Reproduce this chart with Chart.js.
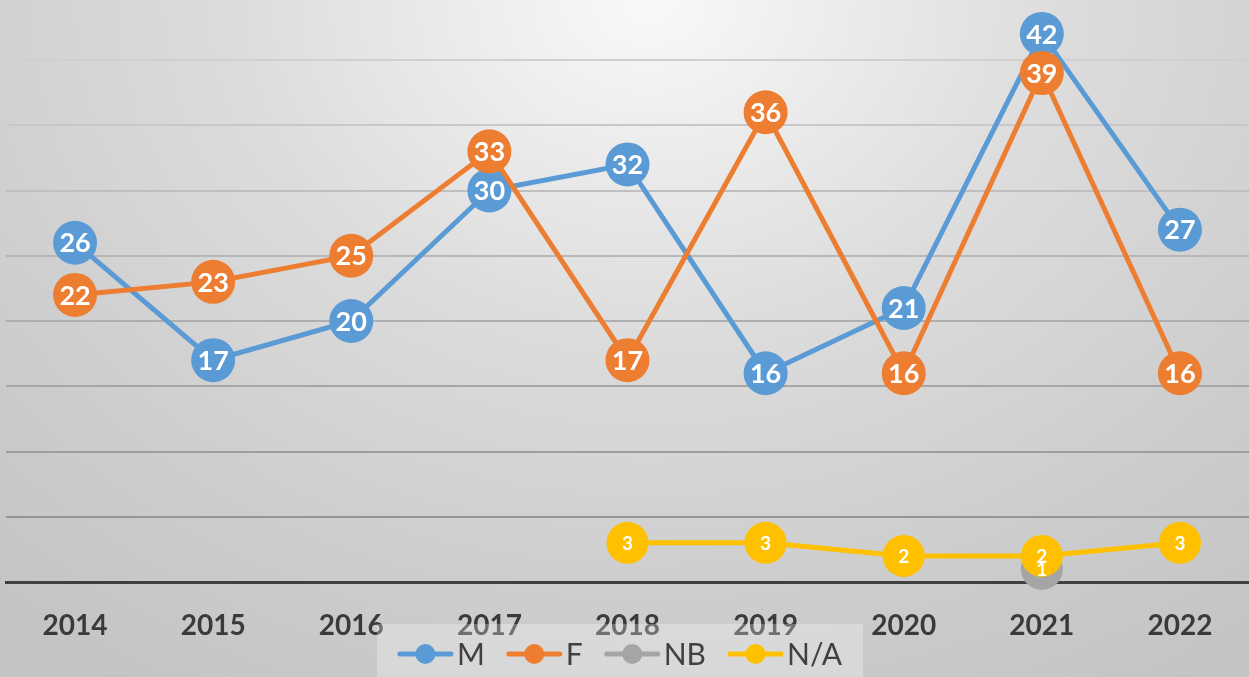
<!DOCTYPE html>
<html>
<head>
<meta charset="utf-8">
<script src="https://cdn.jsdelivr.net/npm/chart.js@4/dist/chart.umd.min.js"></script>
<style>
    html, body { margin: 0; padding: 0; }
    body {
        width: 1249px;
        height: 677px;
        overflow: hidden;
        background: radial-gradient(ellipse 1000px 800px at 52% 0%, #f9f9f9 0%, #dcdcdc 42%, #cdcdcd 75%, #c4c4c4 100%);
    }
    canvas { display: block; }
</style>
</head>
<body>
<canvas id="chart" width="1249" height="677"></canvas>
<script>
const years = ['2014', '2015', '2016', '2017', '2018', '2019', '2020', '2021', '2022'];
const maleCounts = [26, 17, 20, 30, 32, 16, 21, 42, 27];
const femaleCounts = [22, 23, 25, 33, 17, 36, 16, 39, 16];
const nonBinaryCounts = [null, null, null, null, null, null, null, 1, null];
const notGivenCounts = [null, null, null, null, 3, 3, 2, 2, 3];
const seriesNames = ['M', 'F', 'NB', 'N/A'];
const seriesColors = ['#5B9BD5', '#ED7D31', '#A5A5A5', '#FFC000'];

const FONT = 'Lato, "Open Sans", sans-serif';

// white value labels centred on each marker
const pointLabels = {
    id: 'pointLabels',
    afterDatasetsDraw(chart) {
        const ctx = chart.ctx;
        ctx.save();
        ctx.fillStyle = '#ffffff';
        ctx.textAlign = 'center';
        ctx.textBaseline = 'middle';
        chart.data.datasets.forEach((ds, i) => {
            const meta = chart.getDatasetMeta(i);
            ctx.font = `bold ${ds.labelSize}px ${FONT}`;
            meta.data.forEach((pt, j) => {
                const v = ds.data[j];
                if (v === null || v === undefined) return;
                ctx.fillText(String(v), pt.x, pt.y + 1);
            });
        });
        ctx.restore();
    }
};

// Excel style legend: line + marker, on a pale box over the axis labels
const lineLegend = {
    id: 'lineLegend',
    afterDraw(chart) {
        const ctx = chart.ctx;
        const cy = 654;
        const lineLen = 55, textGap = 4, itemGap = 22;
        ctx.save();
        ctx.font = `30px ${FONT}`;
        const widths = seriesNames.map(n => ctx.measureText(n).width);
        const total = widths.reduce((a, w) => a + lineLen + textGap + w, 0) + itemGap * (seriesNames.length - 1);
        let x = 620 - total / 2;

        ctx.fillStyle = 'rgba(255, 255, 255, 0.28)';
        ctx.fillRect(x - 21, 624, total + 42, 60);

        ctx.textBaseline = 'middle';
        ctx.textAlign = 'left';
        seriesNames.forEach((name, i) => {
            ctx.strokeStyle = seriesColors[i];
            ctx.lineWidth = 5;
            ctx.lineCap = 'round';
            ctx.beginPath();
            ctx.moveTo(x + 2, cy);
            ctx.lineTo(x + lineLen - 2, cy);
            ctx.stroke();

            ctx.fillStyle = seriesColors[i];
            ctx.beginPath();
            ctx.arc(x + lineLen / 2, cy, 10, 0, Math.PI * 2);
            ctx.fill();

            ctx.fillStyle = '#404040';
            ctx.fillText(name, x + lineLen + textGap, cy + 1);
            x += lineLen + textGap + widths[i] + itemGap;
        });
        ctx.restore();
    }
};

function makeSeries(label, data, idx, radius, labelSize) {
    return {
        label,
        data,
        borderColor: seriesColors[idx],
        backgroundColor: seriesColors[idx],
        borderWidth: 5,
        pointRadius: radius,
        pointHoverRadius: radius,
        pointBorderWidth: 0,
        pointBackgroundColor: seriesColors[idx],
        tension: 0,
        spanGaps: false,
        clip: false,
        order: 3 - idx,
        labelSize
    };
}

new Chart(document.getElementById('chart'), {
    type: 'line',
    data: {
        labels: years,
        datasets: [
            makeSeries(seriesNames[0], maleCounts, 0, 22, 27),
            makeSeries(seriesNames[1], femaleCounts, 1, 22, 27),
            makeSeries(seriesNames[2], nonBinaryCounts, 2, 21, 19),
            makeSeries(seriesNames[3], notGivenCounts, 3, 21, 19)
        ]
    },
    options: {
        responsive: false,
        animation: false,
        events: [],
        layout: { autoPadding: false, padding: { left: 6, right: 0, top: 0, bottom: 0 } },
        plugins: {
            legend: { display: false },
            tooltip: { enabled: false }
        },
        scales: {
            x: {
                offset: true,
                grid: { display: false, drawTicks: false },
                border: { display: true, color: '#404040', width: 3 },
                ticks: {
                    color: '#3a3a3a',
                    padding: 27,
                    font: { family: FONT, size: 28, weight: 'bold' }
                },
                afterFit(scale) { scale.height = 95; }
            },
            y: {
                min: 0,
                max: 44.6,
                ticks: { display: false, stepSize: 5 },
                border: { display: false },
                grid: {
                    drawTicks: false,
                    lineWidth: (c) => (c.tick.value === 0 ? 3 : 2),
                    color: (c) => {
                        const v = c.tick.value;
                        if (v === 0) return '#404040';
                        if (v % 5 !== 0) return 'rgba(0,0,0,0)';
                        const g = Math.round(0x8c + (0xd0 - 0x8c) * (v / 40));
                        return `rgb(${g},${g},${g})`;
                    }
                },
                afterFit(scale) { scale.width = 0; }
            }
        }
    },
    plugins: [pointLabels, lineLegend]
});
</script>
</body>
</html>
